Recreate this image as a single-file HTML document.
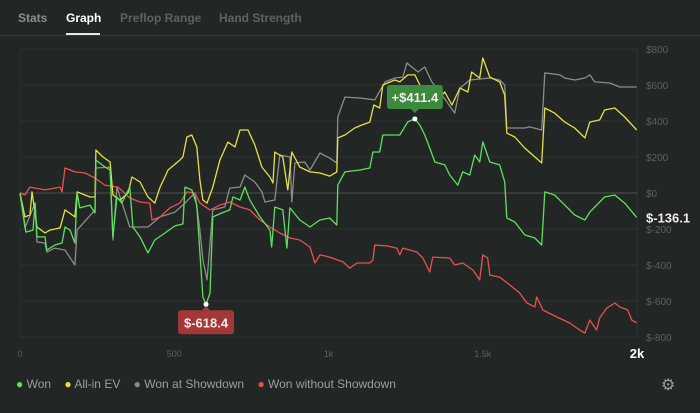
<!DOCTYPE html>
<html><head><meta charset="utf-8"><style>
html,body{margin:0;padding:0;background:#222726;width:700px;height:413px;overflow:hidden;font-family:"Liberation Sans",sans-serif}
.tab{position:absolute;top:11px;font-size:12px;font-weight:bold;color:#5c6361}
</style></head><body>
<div style="position:absolute;left:0;top:0;width:700px;height:35px;border-bottom:1px solid #363c3a"></div>
<div class="tab" style="left:18px;color:#8a908e">Stats</div>
<div class="tab" style="left:66px;color:#ffffff">Graph</div>
<div style="position:absolute;left:66px;top:33px;width:34px;height:2px;background:#e8e8e8"></div>
<div class="tab" style="left:120px">Preflop Range</div>
<div class="tab" style="left:219px">Hand Strength</div>
<svg id="chart" width="700" height="413" style="position:absolute;left:0;top:0" xmlns="http://www.w3.org/2000/svg"></svg>
<div style="position:absolute;left:16px;top:377px;font-size:12px;color:#9a9f9d;white-space:nowrap">
<span><span style="color:#5ee05e">●</span> Won</span>&nbsp;&nbsp;&nbsp;
<span><span style="color:#e8e040">●</span> All-in EV</span>&nbsp;&nbsp;&nbsp;
<span><span style="color:#8a8a8a">●</span> Won at Showdown</span>&nbsp;&nbsp;&nbsp;
<span><span style="color:#e85050">●</span> Won without Showdown</span>
</div>
<div style="position:absolute;left:661px;top:375px;font-size:16px;color:#9a9f9d">⚙</div>
<script>
const yTicks=[800,600,400,200,0,-200,-400,-600,-800];
const xTicks=[0,500,1000,1500,2000];
const xTickLabels=["0","500","1k","1.5k","2k"];
const wonHands=[0,10,19,42,49,55,81,87,113,136,146,162,178,185,194,227,243,246,275,292,301,314,330,356,366,389,415,437,470,502,528,535,557,573,583,593,603,616,625,654,680,690,713,729,745,778,810,816,826,852,865,875,907,940,972,1004,1027,1030,1053,1102,1134,1144,1166,1176,1231,1257,1280,1296,1312,1328,1345,1377,1393,1419,1435,1458,1474,1490,1500,1523,1555,1571,1578,1604,1636,1669,1691,1701,1733,1766,1798,1831,1847,1879,1895,1928,1960,1999];
const wonValues=[0,-111,-217,-206,-56,-244,-244,-317,-289,-278,-189,-206,-278,0,-83,-67,-111,183,145,128,-244,-22,-56,33,-189,-244,-333,-261,-222,-183,-172,33,17,-67,-333,-578,-618.4,-556,-133,-111,-94,-22,-39,33,-39,-133,-206,-300,-78,-94,-306,-83,-150,-189,-150,-139,-178,44,117,128,139,228,228,322,322,395,411.4,378,322,250,172,156,100,44,117,100,211,172,284,172,156,61,-139,-161,-233,-250,-289,6,-11,-67,-122,-150,-106,-50,-22,-11,-56,-136.1];
const evHands=[0,16,32,39,55,81,97,130,146,178,185,227,243,246,269,292,301,324,350,363,389,415,437,454,480,518,528,541,557,573,583,593,606,625,648,674,697,713,739,761,784,810,820,826,852,868,881,907,940,972,1004,1027,1030,1053,1085,1108,1134,1147,1166,1176,1215,1231,1257,1280,1296,1312,1338,1377,1400,1426,1452,1464,1490,1500,1523,1555,1571,1578,1604,1636,1669,1691,1701,1733,1766,1798,1831,1847,1879,1895,1928,1960,1999];
const evValues=[0,-133,-122,6,-189,-222,-206,-194,-94,-133,6,-22,-22,239,200,172,-11,-39,0,89,61,-22,-56,33,128,183,200,311,322,256,72,-39,-56,33,183,283,256,350,350,267,144,89,56,228,200,17,228,144,117,111,94,117,306,322,361,378,394,489,472,600,628,617,656,656,600,544,489,561,489,583,561,672,639,750,644,617,544,333,311,250,200,167,472,444,394,361,306,394,406,461,472,422,350];
const sdHands=[0,16,49,55,81,87,113,146,178,185,243,246,292,301,314,356,415,454,502,535,567,583,593,606,625,664,680,713,729,761,784,794,826,842,875,881,891,923,940,972,1004,1027,1030,1053,1102,1150,1183,1215,1241,1254,1290,1312,1335,1361,1409,1426,1458,1523,1555,1571,1578,1636,1652,1691,1701,1750,1766,1798,1831,1847,1863,1912,1944,1999];
const sdValues=[0,-194,-56,-272,-278,-328,-306,-317,-400,-206,-94,139,144,-261,33,-189,-189,-133,-106,-56,0,-206,-372,-483,-94,-78,28,33,100,61,6,-50,-39,211,200,-50,167,172,128,222,194,167,422,533,528,517,617,639,644,722,672,700,617,561,444,583,628,639,628,600,361,361,367,350,667,656,639,628,639,656,617,611,589,589];
const nsdHands=[0,16,32,81,130,136,146,178,211,243,275,318,356,389,421,428,454,486,518,541,567,583,616,648,680,713,745,778,810,842,875,907,940,956,972,1004,1047,1069,1092,1134,1144,1150,1189,1221,1231,1241,1286,1306,1328,1338,1393,1409,1435,1468,1490,1500,1516,1523,1555,1588,1620,1643,1669,1675,1695,1740,1782,1814,1831,1847,1869,1879,1902,1928,1944,1970,1983,1999];
const nsdValues=[0,-11,33,17,33,6,139,117,111,83,44,33,-28,-50,-56,-150,-133,-83,-56,6,0,-56,-94,-67,-50,-78,-94,-150,-189,-222,-250,-261,-300,-389,-344,-356,-383,-417,-389,-389,-372,-289,-294,-306,-344,-306,-328,-361,-439,-356,-361,-400,-389,-428,-483,-344,-361,-456,-467,-511,-556,-611,-633,-578,-650,-689,-722,-761,-778,-706,-761,-694,-639,-611,-633,-650,-706,-722];

const NS='http://www.w3.org/2000/svg';
const svg=document.getElementById('chart');
const X0=20,X1=637,Y0=193,YS=0.18,XMAX=2000;
function xs(h){return X0+h*(X1-X0)/XMAX;}
function ys(v){return Y0-v*YS;}
function mk(t,a){const e=document.createElementNS(NS,t);for(const k in a)e.setAttribute(k,a[k]);svg.appendChild(e);return e;}

const frame=mk('rect',{x:X0,y:ys(800),width:X1-X0,height:ys(-800)-ys(800),fill:'none',stroke:'#2b302f'});


yTicks.forEach(v=>{
  const l=mk('line',{x1:X0,x2:X1,y1:ys(v),y2:ys(v),stroke:v===0?'#3e4442':'#2d3331','stroke-width':v===0?1.5:1});
  
  
  const t=mk('text',{x:646,y:ys(v)+4,fill:'#5a605e','font-size':10,'font-family':'Liberation Sans, sans-serif'});
  t.textContent='$'+v;
  
  
});
xTicks.forEach((h,i)=>{
  const last=i===xTicks.length-1;
  const t=mk('text',{x:xs(h),y:last?358:357,fill:last?'#ffffff':'#5a605e','font-size':last?13:9,'font-weight':last?'bold':'normal','text-anchor':'middle','font-family':'Liberation Sans, sans-serif'});
  t.textContent=xTickLabels[i];
  
  
});
function series(hands,vals,color,name){
  const pts=hands.map((h,i)=>xs(h).toFixed(1)+','+ys(vals[i]).toFixed(1)).join(' ');
  const p=mk('polyline',{points:pts,fill:'none',stroke:color,'stroke-width':1.3,'stroke-linejoin':'round'});
  
  
}
series(sdHands,sdValues,'#8c8c8c','won-at-showdown-line');
series(nsdHands,nsdValues,'#e85050','won-without-showdown-line');
series(evHands,evValues,'#e8e040','all-in-ev-line');
series(wonHands,wonValues,'#5ee05e','won-line');

let maxI=0,minI=0;wonValues.forEach((v,i)=>{if(v>wonValues[maxI])maxI=i;if(v<wonValues[minI])minI=i;});
function tip(i,color,label,above,name){
  const cx=xs(wonHands[i]),cy=ys(wonValues[i]);
  const w=56,h=24;const by=above?cy-34:cy+6;
  const g=mk('g',{});
  
  
  const r=document.createElementNS(NS,'rect');
  [['x',cx-w/2],['y',by],['width',w],['height',h],['rx',3],['fill',color]].forEach(a=>r.setAttribute(a[0],a[1]));g.appendChild(r);
  const tri=document.createElementNS(NS,'polygon');
  tri.setAttribute('points',above?`${cx-4},${by+h} ${cx+4},${by+h} ${cx},${by+h+4}`:`${cx-4},${by} ${cx+4},${by} ${cx},${by-4}`);
  tri.setAttribute('fill',color);g.appendChild(tri);
  const t=document.createElementNS(NS,'text');
  [['x',cx],['y',by+17],['fill','#f4eaea'],['font-size',13],['font-weight','bold'],['text-anchor','middle'],['font-family','Liberation Sans, sans-serif']].forEach(a=>t.setAttribute(a[0],a[1]));
  t.textContent=label;g.appendChild(t);
  const d=mk('circle',{cx:cx,cy:cy,r:2.5,fill:'#ffffff'});
  
  
}
tip(maxI,'#3c8a3e','+$'+wonValues[maxI].toFixed(1),true,'max-tooltip');
tip(minI,'#a33838','$'+wonValues[minI].toFixed(1),false,'min-tooltip');
const fl=mk('text',{x:646,y:ys(wonValues[wonValues.length-1])+5,fill:'#f4eaea','font-size':13,'font-weight':'bold','font-family':'Liberation Sans, sans-serif'});
fl.textContent='$'+wonValues[wonValues.length-1].toFixed(1);


</script>
</body></html>
